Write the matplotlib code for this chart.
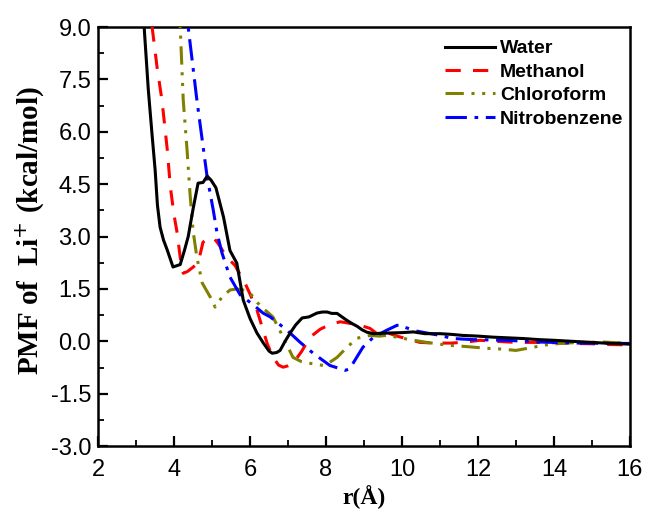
import matplotlib
matplotlib.use("Agg")
import matplotlib.pyplot as plt
from matplotlib.ticker import MultipleLocator

# PMF curves of Li+ in four solvents (r in Angstrom, PMF in kcal/mol)
water_r = [3.10, 3.21, 3.32, 3.42, 3.50, 3.56, 3.63, 3.72, 3.82, 3.97, 4.16, 4.27,
           4.37, 4.50, 4.63, 4.76, 4.87, 4.97, 5.10, 5.30, 5.47, 5.65, 5.82, 6.00,
           6.18, 6.35, 6.50, 6.58, 6.70, 6.79, 6.92, 7.05, 7.20, 7.37, 7.55, 7.76,
           7.90, 8.03, 8.15, 8.29, 8.42, 8.55, 8.70, 8.82, 8.95, 9.08, 9.25, 9.42,
           9.70, 10.0, 10.3, 10.6, 11.0, 11.3, 11.6, 12.0, 12.4, 12.8, 13.2, 13.6,
           14.0, 14.5, 15.0, 15.5, 16.0]
water_v = [11.5, 9.0, 7.2, 5.9, 4.9, 3.9, 3.27, 2.9, 2.61, 2.13, 2.2, 2.6,
           3.0, 3.8, 4.53, 4.55, 4.73, 4.62, 4.4, 3.56, 2.6, 2.24, 1.18, 0.65,
           0.24, -0.05, -0.28, -0.34, -0.32, -0.26, 0.0, 0.23, 0.47, 0.67, 0.70, 0.81,
           0.84, 0.84, 0.80, 0.80, 0.70, 0.60, 0.50, 0.43, 0.33, 0.26, 0.22, 0.23,
           0.24, 0.25, 0.27, 0.22, 0.22, 0.20, 0.17, 0.15, 0.12, 0.10, 0.08, 0.05,
           0.03, 0.0, -0.03, -0.06, -0.08]

methanol_r = [3.30, 3.42, 3.55, 3.68, 3.82, 3.90, 4.00, 4.08, 4.16, 4.24, 4.35, 4.47,
              4.63, 4.76, 4.95, 5.05, 5.16, 5.39, 5.60, 5.87, 6.02, 6.18, 6.32, 6.45,
              6.60, 6.75, 6.87, 7.00, 7.13, 7.35, 7.58, 7.85, 8.10, 8.37, 8.50, 8.70,
              8.90, 9.16, 9.34, 9.60, 9.87, 10.2, 10.47, 10.9, 11.3, 11.7, 12.05, 12.5,
              13.0, 13.5, 14.0, 14.5, 15.0, 15.4, 16.0]
methanol_v = [11.0, 9.0, 7.85, 6.9, 5.48, 4.42, 3.6, 3.1, 2.4, 1.95, 2.0, 2.1,
              2.24, 2.84, 2.98, 2.95, 2.8, 2.4, 2.18, 1.66, 1.3, 0.9, 0.4, -0.06,
              -0.45, -0.68, -0.74, -0.70, -0.63, -0.30, 0.12, 0.35, 0.48, 0.56, 0.54, 0.50,
              0.46, 0.37, 0.22, 0.25, 0.15, 0.05, -0.03, -0.05, -0.05, -0.02, 0.03, 0.0,
              -0.03, -0.03, -0.04, -0.06, -0.07, -0.09, -0.10]

chloroform_r = [4.05, 4.16, 4.24, 4.34, 4.42, 4.50, 4.60, 4.74, 4.95, 5.08, 5.26, 5.47,
                5.65, 5.82, 6.00, 6.08, 6.20, 6.34, 6.60, 6.87, 7.13, 7.35, 7.58, 7.92,
                8.10, 8.29, 8.55, 8.82, 9.16, 9.40, 9.60, 9.87, 10.2, 10.65, 11.2, 11.7,
                12.24, 12.6, 13.0, 13.45, 13.8, 14.16, 14.5, 14.87, 15.3, 15.9, 16.0]
chloroform_v = [11.0, 9.0, 6.9, 5.48, 4.2, 3.15, 2.4, 1.67, 1.27, 0.98, 1.27, 1.47,
                1.50, 1.47, 1.38, 1.27, 1.10, 0.95, 0.70, 0.12, -0.46, -0.58, -0.63, -0.69,
                -0.60, -0.46, -0.17, 0.09, 0.17, 0.15, 0.17, 0.12, 0.05, -0.03, -0.11, -0.15,
                -0.20, -0.22, -0.26, -0.17, -0.10, -0.06, -0.04, -0.03, -0.02, -0.05, -0.05]

nitrobenzene_r = [4.28, 4.37, 4.60, 4.87, 5.03, 5.13, 5.26, 5.47, 5.74, 6.08, 6.34, 6.53,
                  6.97, 7.32, 7.66, 8.10, 8.50, 8.60, 8.71, 8.97, 9.24, 9.60, 9.87, 10.0,
                  10.08, 10.4, 11.0, 11.34, 11.87, 12.76, 13.63, 14.68, 15.9, 16.0]
nitrobenzene_v = [11.0, 9.0, 6.9, 4.7, 3.76, 3.1, 2.53, 1.84, 1.33, 1.05, 0.81, 0.70,
                  0.32, -0.03, -0.34, -0.69, -0.83, -0.80, -0.63, -0.17, 0.11, 0.32, 0.46, 0.46,
                  0.40, 0.29, 0.17, 0.08, 0.05, 0.03, -0.02, -0.05, -0.06, -0.06]

x_ticks = [2, 4, 6, 8, 10, 12, 14, 16]
y_ticks = [-3.0, -1.5, 0.0, 1.5, 3.0, 4.5, 6.0, 7.5, 9.0]

fig = plt.figure(figsize=(6.46, 5.11), dpi=100)
ax = fig.add_axes([0.152, 0.127, 0.823, 0.820])

lw = 2.2
ax.plot(methanol_r, methanol_v, color="#ff0000", lw=lw,
        linestyle=(0, (5, 4)), label="Methanol", zorder=3)
ax.plot(chloroform_r, chloroform_v, color="#808000", lw=lw,
        linestyle=(0, (6, 2.5, 1, 2.5, 1, 2.5)), label="Chloroform", zorder=3)
ax.plot(nitrobenzene_r, nitrobenzene_v, color="#0000ff", lw=lw,
        linestyle=(0, (7, 2.5, 1.2, 2.5)), label="Nitrobenzene", zorder=3)
ax.plot(water_r, water_v, color="black", lw=lw, label="Water", zorder=4)

ax.set_xlim(2, 16)
ax.set_ylim(-3, 9)
ax.set_xticks(x_ticks)
ax.set_xticklabels([str(t) for t in x_ticks])
ax.set_yticks(y_ticks)
ax.set_yticklabels([f"{t:.1f}" for t in y_ticks])
ax.xaxis.set_minor_locator(MultipleLocator(1))
ax.yaxis.set_minor_locator(MultipleLocator(0.75))

for lab in ax.get_xticklabels() + ax.get_yticklabels():
    lab.set_fontfamily("Liberation Sans")
    lab.set_fontsize(17)

ax.tick_params(which="major", direction="in", length=7, width=1.6)
ax.tick_params(which="minor", direction="in", length=4, width=1.3)
ax.tick_params(axis="x", which="major", pad=9)
ax.tick_params(axis="y", which="major", pad=5)
for s in ax.spines.values():
    s.set_linewidth(1.8)

ax.set_xlabel("r(Å)", family="Liberation Serif", fontweight="bold", fontsize=17, labelpad=3)
ax.set_ylabel("PMF of  Li$^{+}$ (kcal/mol)", family="Liberation Serif",
              fontweight="bold", fontsize=21)
ax.yaxis.set_label_coords(-0.097, 0.515)

handles, labels = ax.get_legend_handles_labels()
order = [3, 0, 1, 2]
leg = ax.legend([handles[i] for i in order], [labels[i] for i in order],
                loc="upper right", frameon=False, handlelength=2.6,
                handletextpad=0.25, labelspacing=0.3,
                bbox_to_anchor=(1.012, 1.0), borderaxespad=0.25,
                prop=dict(family="Liberation Sans", weight="bold", size=14))

fig.savefig("out.png", dpi=100)
